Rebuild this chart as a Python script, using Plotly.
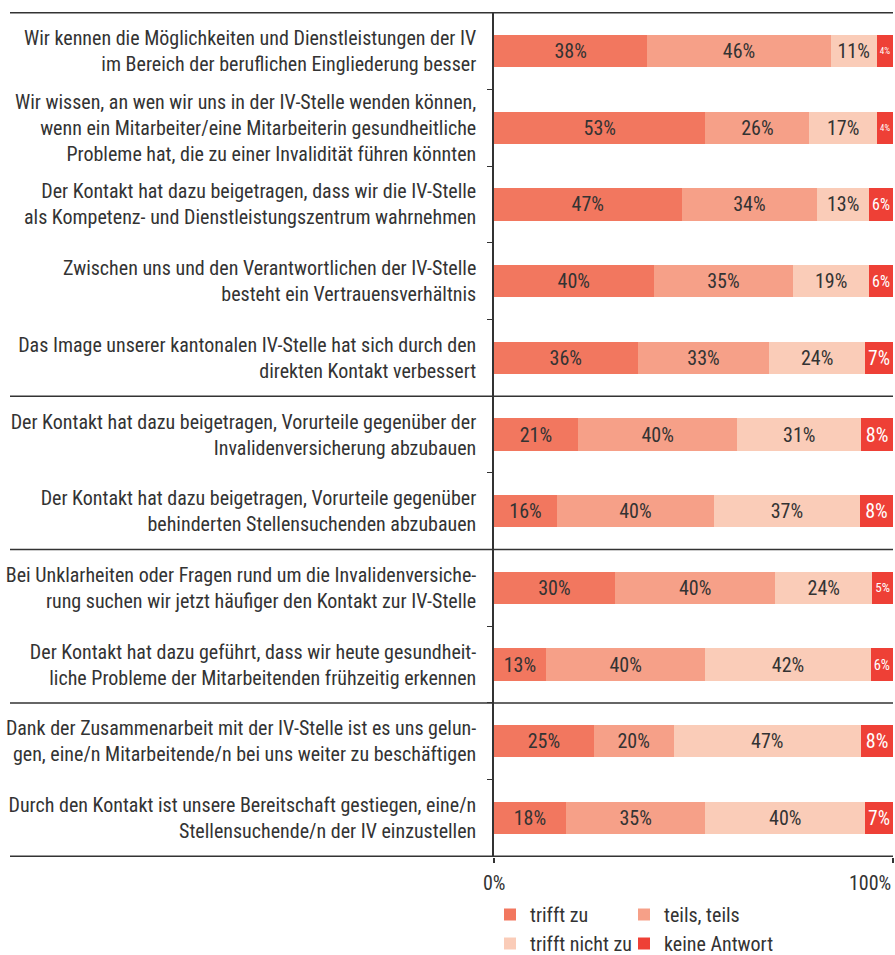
import plotly.graph_objects as go

categories = [
    "Wir kennen die Möglichkeiten und Dienstleistungen der IV<br>im Bereich der beruflichen Eingliederung besser",
    "Wir wissen, an wen wir uns in der IV-Stelle wenden können,<br>wenn ein Mitarbeiter/eine Mitarbeiterin gesundheitliche<br>Probleme hat, die zu einer Invalidität führen könnten",
    "Der Kontakt hat dazu beigetragen, dass wir die IV-Stelle<br>als Kompetenz- und Dienstleistungszentrum wahrnehmen",
    "Zwischen uns und den Verantwortlichen der IV-Stelle<br>besteht ein Vertrauensverhältnis",
    "Das Image unserer kantonalen IV-Stelle hat sich durch den<br>direkten Kontakt verbessert",
    "Der Kontakt hat dazu beigetragen, Vorurteile gegenüber der<br>Invalidenversicherung abzubauen",
    "Der Kontakt hat dazu beigetragen, Vorurteile gegenüber<br>behinderten Stellensuchenden abzubauen",
    "Bei Unklarheiten oder Fragen rund um die Invalidenversiche-<br>rung suchen wir jetzt häufiger den Kontakt zur IV-Stelle",
    "Der Kontakt hat dazu geführt, dass wir heute gesundheit-<br>liche Probleme der Mitarbeitenden frühzeitig erkennen",
    "Dank der Zusammenarbeit mit der IV-Stelle ist es uns gelun-<br>gen, eine/n Mitarbeitende/n bei uns weiter zu beschäftigen",
    "Durch den Kontakt ist unsere Bereitschaft gestiegen, eine/n<br>Stellensuchende/n der IV einzustellen",
]

series_names = ["trifft zu", "teils, teils", "trifft nicht zu", "keine Antwort"]

# bar widths
trifft_zu      = [38.4, 53, 47, 40, 36, 21, 15.8, 30.3, 13.0, 25, 18]
teils_teils    = [46.0, 26, 34, 35, 33, 40, 39.3, 40.2, 40.0, 20, 35]
trifft_nicht   = [11.5, 17, 13, 19, 24, 31, 36.6, 24.3, 41.4, 47, 40]
keine_antwort  = [4.1, 4, 6, 6, 7, 8, 8.3, 5.2, 5.6, 8, 7]

# printed percentage labels
lab_trifft_zu     = [38, 53, 47, 40, 36, 21, 16, 30, 13, 25, 18]
lab_teils_teils   = [46, 26, 34, 35, 33, 40, 40, 40, 40, 20, 35]
lab_trifft_nicht  = [11, 17, 13, 19, 24, 31, 37, 24, 42, 47, 40]
lab_keine_antwort = [4, 4, 6, 6, 7, 8, 8, 5, 6, 8, 7]

x_tick_vals = [0, 100]
x_tick_text = ["0%", "100%"]

colors = ["#F2775F", "#F6A088", "#FACCB8", "#EE4036"]
text_colors = ["#333333", "#333333", "#333333", "#FFFFFF"]

FONT = "Roboto Condensed, Open Sans Condensed, Open Sans, sans-serif"
try:
    go.layout.Font(stretch="condensed")
    EXTRA = dict(stretch="condensed")
except Exception:
    EXTRA = {}


def fnt(size, color="#333333"):
    return dict(family=FONT, size=size, color=color, **EXTRA)


W, H = 895, 955
ML, MR, MT, MB = 494, 2, 12, 98

values = [trifft_zu, teils_teils, trifft_nicht, keine_antwort]
labels = [lab_trifft_zu, lab_teils_teils, lab_trifft_nicht, lab_keine_antwort]
legends = ["legend", "legend2", "legend", "legend2"]

fig = go.Figure()
for name, vals, labs, col, tcol, lg in zip(series_names, values, labels, colors, text_colors, legends):
    fig.add_trace(go.Bar(
        y=categories, x=vals, name=name, orientation="h",
        marker=dict(color=col, line=dict(width=0)),
        text=[f"{v}%" for v in labs],
        textposition="inside", insidetextanchor="middle", textangle=0,
        textfont=fnt(20, tcol),
        legend=lg,
    ))

n = len(categories)
plot_w = W - ML - MR
plot_h = H - MT - MB
left_paper = (10 - ML) / plot_w

shapes = []
for yb in [-0.5, 4.5, 6.5, 8.5, n - 0.5]:
    shapes.append(dict(type="line", xref="paper", yref="y", x0=left_paper, x1=1,
                       y0=yb, y1=yb, line=dict(color="#333333", width=1.5), layer="above"))

annotations = []
for v, t in zip(x_tick_vals, x_tick_text):
    annotations.append(dict(x=v, y=0, xref="x", yref="paper", yshift=-26, text=t,
                            showarrow=False, xanchor="center" if v == 0 else "right",
                            yanchor="middle", font=fnt(20)))

legend_top = -(895 - (H - MB)) / plot_h

fig.update_layout(
    width=W, height=H,
    margin=dict(l=ML, r=MR, t=MT, b=MB, autoexpand=False),
    barmode="stack", bargap=0.58,
    plot_bgcolor="white", paper_bgcolor="white",
    font=fnt(20),
    xaxis=dict(range=[0, 100], tickvals=x_tick_vals, showticklabels=False,
               ticks="outside", ticklen=5, tickwidth=1.5, tickcolor="#333333",
               showgrid=False, zeroline=False, showline=False, fixedrange=True,
               automargin=False),
    yaxis=dict(autorange="reversed", type="category", tickson="boundaries",
               ticks="outside", ticklen=5, tickwidth=1.2, tickcolor="#333333",
               showline=True, linecolor="#333333", linewidth=1.5,
               showgrid=False, zeroline=False, ticklabelstandoff=12,
               automargin=False, tickfont=fnt(20)),
    legend=dict(x=(490 - ML) / plot_w, y=legend_top, xanchor="left", yanchor="top",
                orientation="v", font=fnt(20), traceorder="normal",
                bgcolor="rgba(0,0,0,0)", itemclick=False, tracegroupgap=0),
    legend2=dict(x=(624 - ML) / plot_w, y=legend_top, xanchor="left", yanchor="top",
                 orientation="v", font=fnt(20), traceorder="normal",
                 bgcolor="rgba(0,0,0,0)", itemclick=False, tracegroupgap=0),
    shapes=shapes,
    annotations=annotations,
    showlegend=True,
)

fig.write_html("out.html")
